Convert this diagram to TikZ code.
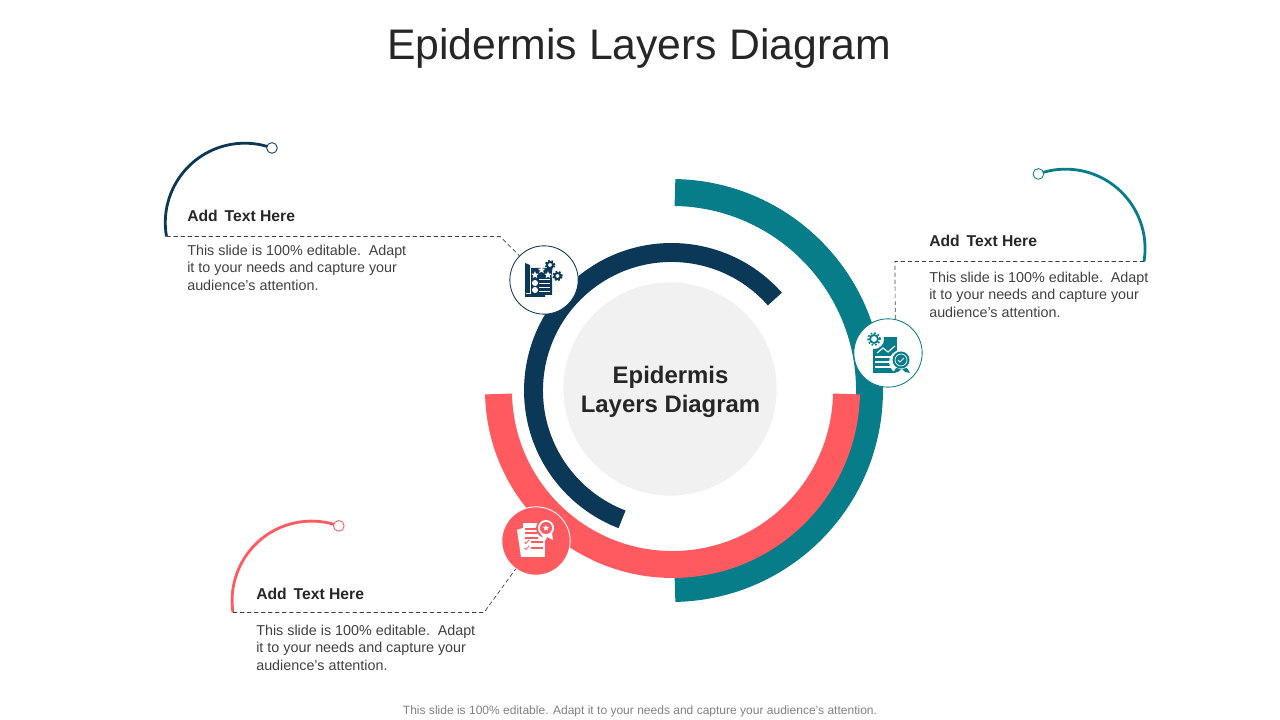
\documentclass[tikz,border=0pt]{standalone}
\usepackage{fontspec}
\usetikzlibrary{shapes.geometric}
\setmainfont{Liberation Sans}
\definecolor{navyarc}{HTML}{0B3856}
\definecolor{tealarc}{HTML}{087D8A}
\definecolor{coralarc}{HTML}{FF5A5F}
\definecolor{hubgray}{HTML}{F1F1F1}
\definecolor{darktext}{HTML}{262626}
\definecolor{bodytext}{HTML}{404040}
\begin{document}
\begin{tikzpicture}[x=0.025cm,y=0.025cm,
    ring/.style={line width=0.709pt*#1},
    swoop/.style={line width=2pt},
    endring/.style={circle,draw,fill=white,line width=0.6pt,minimum size=7.6pt,inner sep=0pt},
    iconring/.style={circle,draw,fill=white,line width=0.6pt,minimum size=48.6pt,inner sep=0pt},
    leader/.style={dash pattern=on 3pt off 2pt,line width=0.5pt,draw=bodytext},
    head/.style={anchor=west,inner sep=0pt,text=darktext,font=\fontsize{11.15}{13}\selectfont\bfseries},
    body/.style={anchor=north west,inner sep=0pt,align=left,text=bodytext,font=\fontsize{10.2}{12.4}\selectfont},
    gearteeth/.style={draw,dash pattern=on 1.3pt off 1.3pt,line width=1.1pt},
    gearhub/.style={draw,line width=1.3pt},
    awardstar/.style={star,star points=5,star point ratio=2.2,fill=white,minimum size=5.4pt,inner sep=0pt}]
    \useasboundingbox (0,0) rectangle (1280,720);

    \node[text=darktext,font=\fontsize{30.4}{36}\selectfont] (title) at (639,672) {Epidermis Layers Diagram};
    \node[text=gray,font=\fontsize{8.55}{10}\selectfont] (footer) at (640,8.5) {This slide is 100\% editable. Adapt it to your needs and capture your audience's attention.};

    \coordinate (hub) at (671.5,329.5);
    \coordinate (coralhub) at (672.5,329.5);
    \draw[tealarc,ring=27] ([shift={(89:198)}]hub) arc (89:-89:198);
    \draw[coralarc,ring=27] ([shift={(181.15:174)}]coralhub) arc (181.15:358.85:174);
    \draw[navyarc,ring=19] ([shift={(41.5:138)}]hub) arc (41.5:249:138);
    \node[circle,fill=hubgray,minimum size=151.7pt,inner sep=0pt] (center) at (670,331) {};
    \node[align=center,inner sep=0pt,text=darktext,font=\fontsize{17}{20.6}\selectfont\bfseries] (centerlabel) at (670.5,328) {Epidermis\\Layers Diagram};

    \node[iconring,draw=navyarc] (iconnavy) at (544,440) {};
    \node[iconring,draw=tealarc] (iconteal) at (888,367) {};
    \node[iconring,draw=white,fill=coralarc] (iconcoral) at (536,179) {};

    % navy block
    \coordinate (navystart) at (166.5,483.5);
    \coordinate (navybend) at (500,483.5);
    \draw[navyarc,swoop] (navystart) arc (190:70:79.5) coordinate (navytip);
    \node[endring,draw=navyarc] (navyend) at (navytip) {};
    \draw[leader] (navystart) -- (navybend) -- (iconnavy);
    \node[head] (navyhead) at (187,504) {Add\, Text Here};
    \node[body] (navybody) at (187,475.5) {This slide is 100\% editable.\, Adapt\\it to your needs and capture your\\audience's attention.};

    % teal block
    \coordinate (tealstart) at (1144,458.5);
    \coordinate (tealbend) at (895,458.5);
    \draw[tealarc,swoop] (tealstart) arc (-9.3:110:79.5) coordinate (tealtip);
    \node[endring,draw=tealarc] (tealend) at (tealtip) {};
    \draw[leader] (tealstart) -- (tealbend) -- (iconteal.78);
    \node[head] (tealhead) at (929,479) {Add\, Text Here};
    \node[body] (tealbody) at (929,448.5) {This slide is 100\% editable.\, Adapt\\it to your needs and capture your\\audience's attention.};

    % coral block
    \coordinate (coralstart) at (233,107.5);
    \coordinate (coralbend) at (484,107.5);
    \draw[coralarc,swoop] (coralstart) arc (188.6:70:79.5) coordinate (coraltip);
    \node[endring,draw=coralarc] (coralend) at (coraltip) {};
    \draw[leader] (coralstart) -- (coralbend) -- (iconcoral);
    \node[head] (coralhead) at (256,126) {Add\, Text Here};
    \node[body] (coralbody) at (256,95.5) {This slide is 100\% editable.\, Adapt\\it to your needs and capture your\\audience's attention.};

    % navy icon
    \draw[navyarc,gearhub] (550,455) circle (3);
    \draw[navyarc,gearteeth] (550,455) circle (4.6);
    \fill[navyarc] (525,457) -- (530,455) -- (530,452) -- (552,452) -- (552,425) -- (545,425) -- (545,423) -- (525,423) -- cycle;
    \draw[white,line width=0.4pt] (530.5,452) -- (530.5,427) -- (526,427);
    \node[awardstar] (staronea) at (535,445) {};
    \node[awardstar] (staroneb) at (541.5,450) {};
    \node[awardstar] (staronec) at (548,445) {};
    \foreach \ly in {440,436,432,428} {\draw[white,line width=0.7pt] (539,\ly) -- (550,\ly);}
    \fill[white] (535,437) circle (3);
    \fill[white] (535,430) circle (3);
    \fill[white] (557.5,444) circle (6);
    \draw[navyarc,gearhub] (557.5,444) circle (3);
    \draw[navyarc,gearteeth] (557.5,444) circle (4.6);

    % teal icon
    \fill[tealarc] (873,383) -- (897,383) -- (897,347) -- (873,347) -- cycle;
    \draw[white,line width=0.8pt] (877,367) -- (883,372) -- (888,368) -- (895,374);
    \foreach \ly in {363,358,353} {\draw[white,line width=0.8pt] (875,\ly) -- (893,\ly);}
    \fill[white] (874,381) circle (10);
    \draw[tealarc,gearhub] (874,381) circle (4);
    \draw[tealarc,gearteeth] (874,381) circle (6);
    \fill[white] (901,358) circle (12);
    \fill[tealarc] (896,352) -- (893,347) -- (898,348) -- (901,351) -- cycle;
    \fill[tealarc] (902,351) -- (905,348) -- (910,347) -- (907,352) -- cycle;
    \fill[tealarc] (901,360) circle (8.5);
    \draw[white,line width=0.5pt] (901,360) circle (6);
    \draw[white,line width=0.7pt] (898,360) -- (900,358) -- (904,362);

    % coral icon
    \fill[white] (517,190) -- (523,192) -- (527,163) -- (521,163) -- cycle;
    \fill[white] (523,197) -- (545,197) -- (545,163) -- (523,163) -- cycle;
    \foreach \ly in {191,187,182} {\draw[coralarc,line width=0.8pt] (525,\ly) -- (538,\ly);}
    \foreach \ly in {178,172} {
        \draw[coralarc,line width=0.6pt] (524.5,\ly) -- (526,\ly-1.5) -- (529,\ly+2);
        \draw[coralarc,line width=0.8pt] (531,\ly) -- (543,\ly);
    }
    \fill[coralarc] (546,192) circle (10);
    \fill[white] (541,186) -- (545,179) -- (547,183) -- (553,180) -- (552,187) -- cycle;
    \fill[white] (546,192) circle (8);
    \fill[coralarc] (546,192) circle (6);
    \node[awardstar,minimum size=4.6pt] (starcoral) at (546,192) {};
\end{tikzpicture}
\end{document}
